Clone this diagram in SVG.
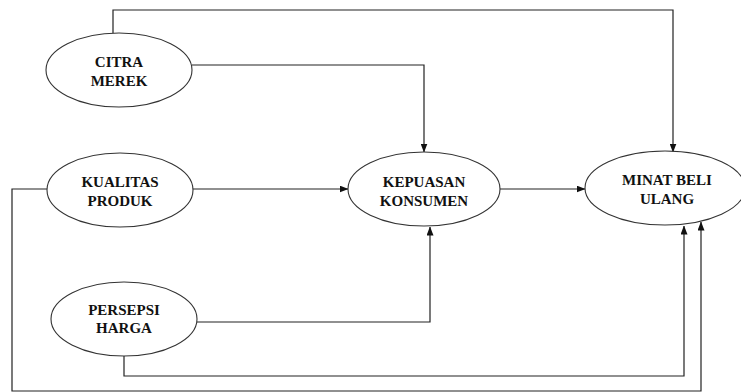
<svg xmlns="http://www.w3.org/2000/svg" width="741" height="392" viewBox="0 0 741 392">
<defs>
<style>
.node ellipse{fill:#fff;stroke:#333;stroke-width:1.1}
.node text{font-family:'Liberation Serif','Times New Roman','DejaVu Serif',serif;font-weight:700;font-size:15px;fill:#111;text-anchor:middle}
.conn path{fill:none;stroke:#222;stroke-width:1.2}
</style>
<marker id="arr" markerWidth="9" markerHeight="7" refX="8.5" refY="3.5" orient="auto" markerUnits="userSpaceOnUse">
<path d="M0,0 L9,3.5 L0,7 Z" fill="#111"/>
</marker>
</defs>
<rect width="741" height="392" fill="#fff"/>
<g id="connectors" class="conn">
<path d="M113,33 V10 H673 V152" marker-end="url(#arr)"/>
<path d="M192,65 H424 V152" marker-end="url(#arr)"/>
<path d="M192,189 H348" marker-end="url(#arr)"/>
<path d="M500,189 H585" marker-end="url(#arr)"/>
<path d="M197,322 H430 V227" marker-end="url(#arr)"/>
<path d="M124,356 V376 H684 V226" marker-end="url(#arr)"/>
<path d="M47,189 H12 V391 H701 V222" marker-end="url(#arr)"/>
</g>
<g id="citra-merek" class="node">
<ellipse cx="119" cy="70" rx="73" ry="37"/>
<text x="119" y="67">CITRA</text>
<text x="119" y="86">MEREK</text>
</g>
<g id="kualitas-produk" class="node">
<ellipse cx="120" cy="190" rx="73" ry="37"/>
<text x="120" y="187">KUALITAS</text>
<text x="120" y="206">PRODUK</text>
</g>
<g id="persepsi-harga" class="node">
<ellipse cx="124" cy="319" rx="73" ry="37"/>
<text x="124" y="315">PERSEPSI</text>
<text x="124" y="333">HARGA</text>
</g>
<g id="kepuasan-konsumen" class="node">
<ellipse cx="424" cy="189" rx="76" ry="37"/>
<text x="424" y="187">KEPUASAN</text>
<text x="424" y="206">KONSUMEN</text>
</g>
<g id="minat-beli-ulang" class="node">
<ellipse cx="665" cy="188" rx="80" ry="37"/>
<text x="667" y="185">MINAT BELI</text>
<text x="667" y="204">ULANG</text>
</g>
</svg>
